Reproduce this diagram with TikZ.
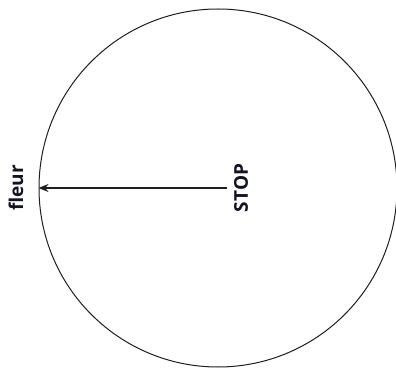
\documentclass[tikz,border=0pt]{standalone}
\usepackage{fontspec}
\setsansfont{Open Sans}
\usetikzlibrary{arrows.meta}
\definecolor{ink}{RGB}{30,30,30}
\definecolor{navy}{RGB}{18,20,36}

\begin{document}
\begin{tikzpicture}[x=1pt, y=-1pt,
    rim/.style={draw=ink, circle, line width=1pt, minimum size=358pt, inner sep=0pt},
    tag/.style={font=\sffamily\bfseries\fontsize{19}{21}\selectfont, text=navy, rotate=90, inner sep=2pt},
    ray/.style={-{Stealth[length=10pt, width=8pt]}, draw=ink, line width=1.5pt}
  ]
  \useasboundingbox (0,0) rectangle (396,371);
  \node[rim] (wheel) at (218,188) {};
  \node[tag] (stop) at (241,188) {STOP};
  \node[tag] (fleur) at (16,188) {fleur};
  \draw[ray] (stop.north) ++(-5,0) coordinate (tail) (tail) -- (wheel.west);
\end{tikzpicture}
\end{document}
